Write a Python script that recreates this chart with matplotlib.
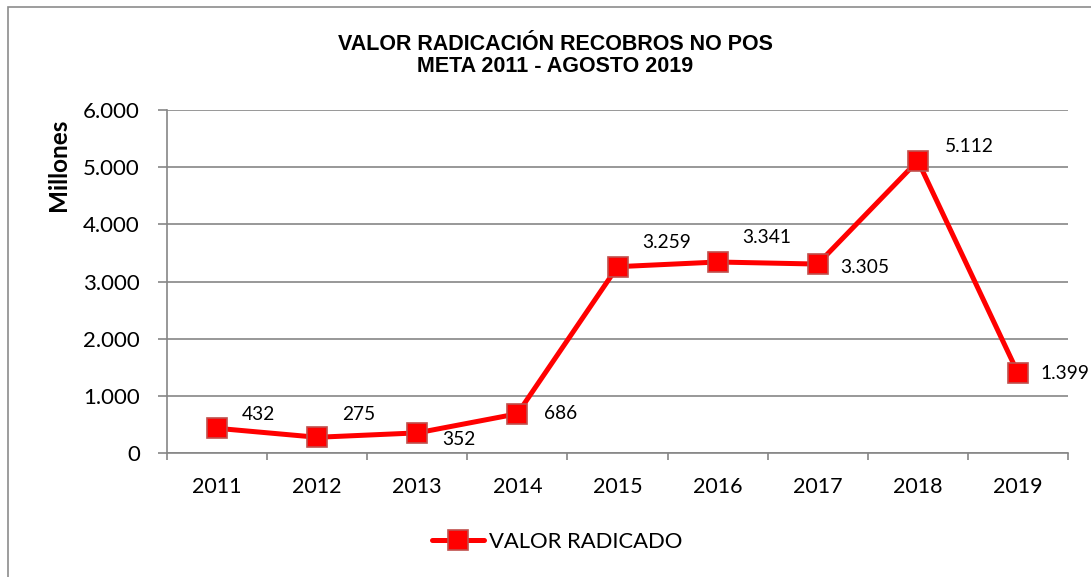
import matplotlib.pyplot as plt
from matplotlib.patches import Rectangle
from matplotlib.ticker import FuncFormatter
import numpy as np

years = ["2011", "2012", "2013", "2014", "2015", "2016", "2017", "2018", "2019"]
valor = [432, 275, 352, 686, 3259, 3341, 3305, 5112, 1399]
labels = ["432", "275", "352", "686", "3.259", "3.341", "3.305", "5.112", "1.399"]

# label offsets in pixels (right of each point, tweaked like in the original)
offs = [(25, 14), (25, 23), (25, -7), (27, 0), (25, 24), (25, 25), (23, -3), (27, 14), (23, 0)]

W, H = 1091, 577
fig = plt.figure(figsize=(W / 100, H / 100), dpi=100)
fig.patches.append(Rectangle((8 / W, -0.1), 1.2, 1 - 7 / H + 0.1, transform=fig.transFigure,
                             fill=False, edgecolor="#8c8c8c", linewidth=1.2))

ax = fig.add_axes([167 / W, 1 - 453 / H, (1068 - 167) / W, (453 - 110) / H])
x = np.arange(len(years))
ax.plot(x, valor, color="#ff0000", linewidth=3.6, marker="s", markersize=14,
        markerfacecolor="#ff0000", markeredgecolor="#c0504d", markeredgewidth=1.2,
        label="VALOR RADICADO", zorder=3, solid_capstyle="round")

for xi, v, lab, (dx, dy) in zip(x, valor, labels, offs):
    ax.annotate(lab, (xi, v), xytext=(dx, dy), textcoords="offset pixels",
                ha="left", va="center", fontsize=13.8, family="Lato", color="black")

ax.set_xlim(-0.5, len(years) - 0.5)
ax.set_ylim(0, 6000)
ax.set_yticks(np.arange(0, 6001, 1000))
ax.yaxis.set_major_formatter(FuncFormatter(lambda v, p: f"{int(v):,}".replace(",", ".")))
ax.set_xticks(x)
ax.set_xticklabels(years)
ax.set_xticks(np.arange(-0.5, len(years)), minor=True)
ax.tick_params(axis="x", which="major", length=0, pad=17, labelsize=15.5, labelfontfamily="Lato")
ax.tick_params(axis="x", which="minor", length=5, width=1.2, color="#868686", direction="out")
ax.tick_params(axis="y", length=6.5, width=1.2, color="#868686", pad=13, labelsize=16, labelfontfamily="Lato")

ax.grid(axis="y", color="#868686", linewidth=1.2)
ax.set_axisbelow(True)
for s in ["top", "right"]:
    ax.spines[s].set_visible(False)
for s in ["left", "bottom"]:
    ax.spines[s].set_color("#868686")
    ax.spines[s].set_linewidth(1.2)

fig.text(58 / W, 1 - 165 / H, "Millones", rotation=90, ha="center", va="center",
         fontsize=17.5, fontweight="bold", family="Lato")

fig.text(555 / W, 1 - 44 / H, "VALOR RADICACIÓN RECOBROS NO POS", ha="center", va="center",
         fontsize=15.5, fontweight="bold", family="Liberation Sans")
fig.text(555 / W, 1 - 67 / H, "META 2011 - AGOSTO 2019", ha="center", va="center",
         fontsize=15.5, fontweight="bold", family="Liberation Sans")

fig.legend(loc="center", bbox_to_anchor=(557 / W, 1 - 542 / H), frameon=False,
           prop={"family": "Lato", "size": 15.8}, handlelength=2.4, handletextpad=0.2)

fig.savefig("out.png", dpi=100)
